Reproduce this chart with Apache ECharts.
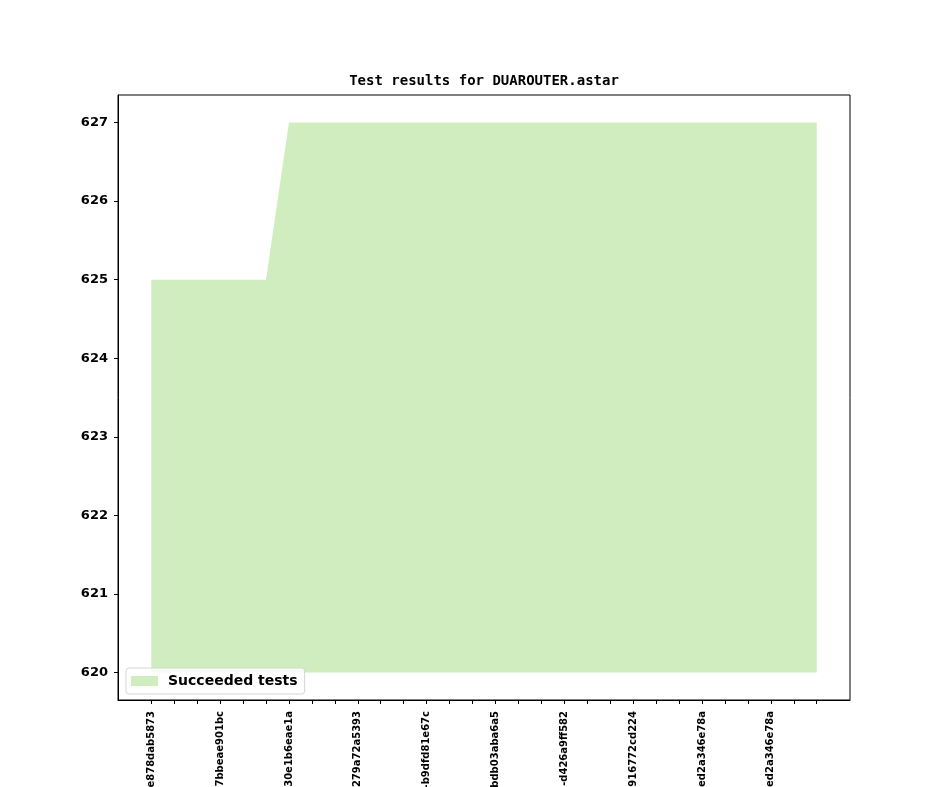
<!DOCTYPE html>
<html>
<head>
<meta charset="utf-8">
<script src="https://cdn.jsdelivr.net/npm/echarts@6/dist/echarts.min.js"></script>
<style>
  html, body { margin: 0; padding: 0; background: #fff; }
  #chart { width: 944px; height: 787px; }
</style>
</head>
<body>
<div id="chart"></div>
<script>
// revisions (one per tick), only every third one gets a label
let revisions = [];
for (let i = 0; i < 30; i++) revisions.push(i);
let revLabels = {
    0: 'e878dab5873',
    3: '7bbeae901bc',
    6: '30e1b6eae1a',
    9: '279a72a5393',
    12: '-b9dfd81e67c',
    15: 'bdb03aba6a5',
    18: '-d426a9ff582',
    21: '916772cd224',
    24: 'ed2a346e78a',
    27: 'ed2a346e78a'
};
let labelTicks = [0, 3, 6, 9, 12, 15, 18, 21, 24, 27];
let succeeded = [625, 625, 625, 625, 625, 625,
    627, 627, 627, 627, 627, 627, 627, 627, 627, 627, 627, 627,
    627, 627, 627, 627, 627, 627, 627, 627, 627, 627, 627, 627];
let yTicks = [620, 621, 622, 623, 624, 625, 626, 627];

let chart = echarts.init(document.getElementById('chart'));

let option = {
    animation: false,
    title: {
        text: 'Test results for DUAROUTER.astar',
        left: 484,
        textAlign: 'center',
        top: 74,
        padding: 0,
        textStyle: {
            fontFamily: 'DejaVu Sans Mono',
            fontWeight: 'bold',
            fontSize: 14,
            color: '#000'
        }
    },
    legend: {
        data: ['Succeeded tests'],
        left: 126,
        top: 668,
        orient: 'vertical',
        icon: 'rect',
        itemWidth: 27,
        itemHeight: 10,
        itemGap: 0,
        padding: [6, 7, 6, 5],
        backgroundColor: 'rgba(255,255,255,0.8)',
        borderColor: '#d6d6d6',
        borderWidth: 1,
        borderRadius: 3,
        textStyle: {
            fontFamily: 'DejaVu Sans',
            fontWeight: 'bold',
            fontSize: 14,
            color: '#000',
            padding: [0, 0, 0, 5]
        }
    },
    grid: {
        left: 118,
        right: 94,
        top: 95,
        bottom: 87,
        show: true,
        borderColor: '#000',
        borderWidth: 1,
        containLabel: false,
        outerBoundsMode: 'none'
    },
    xAxis: {
        type: 'value',
        min: -1.45,
        max: 30.45,
        splitLine: { show: false },
        axisLine: { onZero: false, lineStyle: { color: '#000' } },
        axisTick: {
            customValues: revisions,
            length: 4,
            lineStyle: { color: '#000' }
        },
        axisLabel: {
            customValues: labelTicks,
            rotate: 90,
            margin: 11,
            fontFamily: 'DejaVu Sans',
            fontWeight: 'bold',
            fontSize: 10,
            color: '#000',
            formatter: function (v) { return revLabels[v] || ''; }
        }
    },
    yAxis: {
        type: 'value',
        min: 619.65,
        max: 627.35,
        splitLine: { show: false },
        axisLine: { show: true, onZero: false, lineStyle: { color: '#000' } },
        axisTick: {
            show: true,
            customValues: yTicks,
            length: 4,
            lineStyle: { color: '#000' }
        },
        axisLabel: {
            customValues: yTicks,
            margin: 10,
            fontFamily: 'DejaVu Sans',
            fontWeight: 'bold',
            fontSize: 13,
            color: '#000'
        }
    },
    series: [{
        name: 'Succeeded tests',
        type: 'line',
        data: revisions.map(function (r, i) { return [r, succeeded[i]]; }),
        showSymbol: false,
        lineStyle: { width: 0 },
        itemStyle: { color: '#cfedbe' },
        areaStyle: { color: '#cfedbe', opacity: 1, origin: 620 }
    }]
};

chart.setOption(option);
</script>
</body>
</html>
